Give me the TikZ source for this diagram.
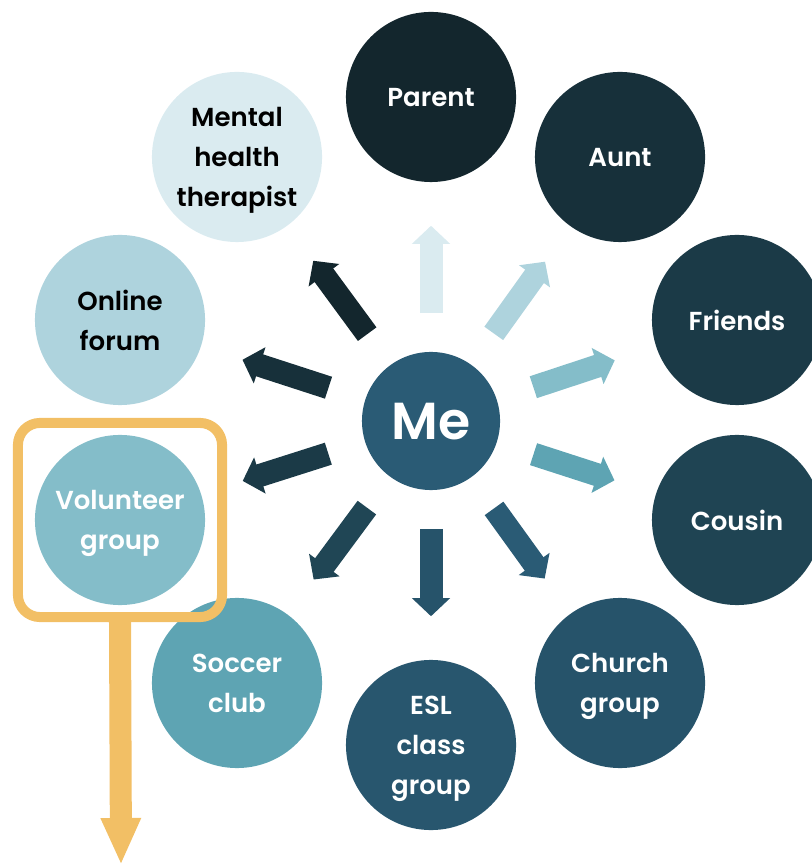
\documentclass[tikz,border=0pt]{standalone}
\usepackage{fontspec}
\setmainfont{Poppins}[BoldFont={Poppins SemiBold}]
\usetikzlibrary{arrows.meta, positioning}

\definecolor{parentC}{HTML}{13262D}
\definecolor{auntC}{HTML}{17303A}
\definecolor{friendsC}{HTML}{1B3A47}
\definecolor{cousinC}{HTML}{1F4453}
\definecolor{churchC}{HTML}{26536A}
\definecolor{eslC}{HTML}{28566E}
\definecolor{soccerC}{HTML}{5EA4B3}
\definecolor{volunteerC}{HTML}{84BDC9}
\definecolor{onlineC}{HTML}{AED3DD}
\definecolor{mentalC}{HTML}{DAEBF0}
\definecolor{meC}{HTML}{2A5B75}
\definecolor{goldC}{HTML}{F2BF65}

\begin{document}
\begin{tikzpicture}[x=0.01cm, y=-0.01cm,
    >={Triangle[length=1.8mm, width=3.7mm]},
    bubble/.style={circle, minimum size=1.7cm, inner sep=0pt, align=center,
      text depth=0pt, font=\bfseries\fontsize{7.4}{11.4}\selectfont, text=white},
    spoke/.style={->, line width=2.3mm, shorten <=3.8mm, shorten >=4.3mm}]
    \useasboundingbox (0,0) rectangle (811,865);

    % Centre
    \node[bubble, fill=meC, minimum size=1.38cm,
      font=\bfseries\fontsize{14.8}{16}\selectfont] (me) at (431,421) {Me};

    % Circles
    \node[bubble, fill=parentC] (parent) at (431,97) {Parent};
    \node[bubble, fill=auntC] (aunt) at (620,157) {Aunt};
    \node[bubble, fill=friendsC] (friends) at (737,320) {Friends};
    \node[bubble, fill=cousinC] (cousin) at (737,520) {Cousin};
    \node[bubble, fill=churchC] (church) at (620,683) {Church\\group};
    \node[bubble, fill=eslC] (esl) at (431,745) {ESL\\class\\group};
    \node[bubble, fill=soccerC] (soccer) at (237,683) {Soccer\\club};
    \node[bubble, fill=volunteerC] (volunteer) at (120,520) {Volunteer\\group};
    \node[bubble, fill=onlineC, text=black] (online) at (120,320) {Online\\forum};
    \node[bubble, fill=mentalC, text=black] (mental) at (237,157) {Mental\\health\\therapist};

    % Arrows
    \draw[spoke, mentalC] (me) -- (parent);
    \draw[spoke, onlineC] (me) -- (aunt);
    \draw[spoke, volunteerC] (me) -- (friends);
    \draw[spoke, soccerC] (me) -- (cousin);
    \draw[spoke, meC] (me) -- (church);
    \draw[spoke, churchC] (me) -- (esl);
    \draw[spoke, cousinC!90!churchC] (me) -- (soccer);
    \draw[spoke, friendsC] (me) -- (volunteer);
    \draw[spoke, auntC] (me) -- (online);
    \draw[spoke, parentC] (me) -- (mental);

    % Highlight
    \node[draw=goldC, line width=1mm, rounded corners=2.2mm,
      minimum width=2.04cm, minimum height=1.94cm] (focus) at (120,520) {};
    \coordinate (down) at (121,865);
    \draw[-{Triangle[length=4.7mm, width=3.7mm]}, goldC, line width=2.2mm]
      (focus.south) -- (down);
\end{tikzpicture}
\end{document}
